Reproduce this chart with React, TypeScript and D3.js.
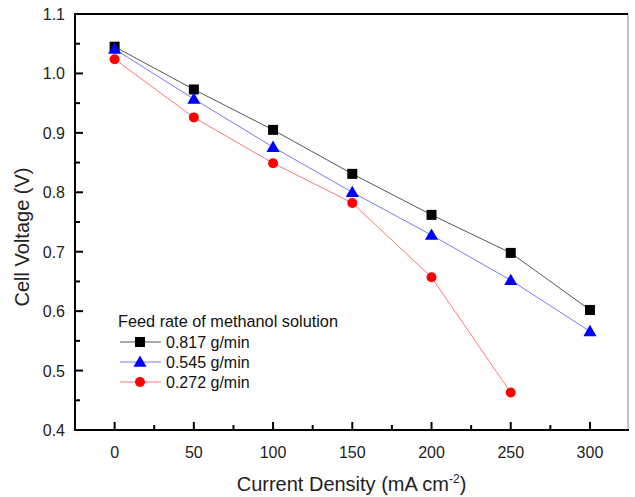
import React from "react";
import * as d3 from "d3";

const currentDensity = [0, 50, 100, 150, 200, 250, 300];
const series817 = [1.045, 0.973, 0.905, 0.831, 0.762, 0.698, 0.602];
const series545 = [1.041, 0.957, 0.876, 0.800, 0.728, 0.652, 0.566];
const series272 = [1.024, 0.926, 0.849, 0.782, 0.657, 0.463];
const seriesLabels = ["0.817 g/min", "0.545 g/min", "0.272 g/min"];
const legendTitle = "Feed rate of methanol solution";
const xTicks = [0, 50, 100, 150, 200, 250, 300];
const yTicks = [0.4, 0.5, 0.6, 0.7, 0.8, 0.9, 1.0, 1.1];

const W = 635, H = 497;
const L = 75, R = 628, T = 14, B = 430;
const FONT = "'Liberation Sans', Arial, sans-serif";

function Marker({ type, x, y, color }: { type: string; x: number; y: number; color: string }) {
  if (type === "square") return <rect x={x - 5} y={y - 5} width={10} height={10} fill={color} />;
  if (type === "triangle") {
    const p = d3.symbol().type(d3.symbolTriangle).size(75)();
    return <path d={p || ""} transform={`translate(${x},${y + 1})`} fill={color} />;
  }
  return <circle cx={x} cy={y} r={5} fill={color} />;
}

export default function App() {
  const x = d3.scaleLinear().domain([-25, 324]).range([L, R]);
  const y = d3.scaleLinear().domain([0.4, 1.1]).range([B, T]);
  const series = [
    { vals: series817, line: "#555", color: "#000", type: "square" },
    { vals: series545, line: "#7777ff", color: "#0000ff", type: "triangle" },
    { vals: series272, line: "#ff7777", color: "#ff0000", type: "circle" },
  ];
  const lineGen = (vals: number[]) =>
    d3.line<number>().x((_, i) => x(currentDensity[i])).y((v) => y(v))(vals) || "";
  const xMinor = d3.range(-25, 325, 25).filter((v) => v % 50 !== 0 && v > -25);
  const yMinor = d3.range(0.45, 1.1, 0.1);

  return (
    <svg width={W} height={H} style={{ position: "absolute", left: 0, top: 0, background: "#fff" }}>
      <rect x={0} y={0} width={W} height={H} fill="#fff" />
      {/* frame */}
      <line x1={R} y1={T} x2={R} y2={B} stroke="#888" strokeWidth={1} />
      <line x1={L} y1={T} x2={R} y2={T} stroke="#000" strokeWidth={2} />
      <line x1={L} y1={T - 1} x2={L} y2={B + 1} stroke="#000" strokeWidth={2} />
      <line x1={L - 1} y1={B} x2={R + 1} y2={B} stroke="#000" strokeWidth={2} />
      {/* y ticks */}
      {yTicks.map((t) => (
        <g key={"y" + t}>
          <line x1={L} x2={L + 8} y1={y(t)} y2={y(t)} stroke="#000" strokeWidth={2} />
          <text x={L - 10} y={y(t) + 6} textAnchor="end" fontFamily={FONT} fontSize={16} fill="#222">
            {t.toFixed(1)}
          </text>
        </g>
      ))}
      {yMinor.map((t) => (
        <line key={"ym" + t} x1={L} x2={L + 5} y1={y(t)} y2={y(t)} stroke="#000" strokeWidth={2} />
      ))}
      {/* x ticks */}
      {xTicks.map((t) => (
        <g key={"x" + t}>
          <line x1={x(t)} x2={x(t)} y1={B} y2={B - 8} stroke="#000" strokeWidth={2} />
          <text x={x(t)} y={B + 28} textAnchor="middle" fontFamily={FONT} fontSize={16} fill="#222">
            {t}
          </text>
        </g>
      ))}
      {xMinor.map((t) => (
        <line key={"xm" + t} x1={x(t)} x2={x(t)} y1={B} y2={B - 5} stroke="#000" strokeWidth={2} />
      ))}
      {/* axis titles */}
      <text x={(L + R) / 2} y={491} textAnchor="middle" fontFamily={FONT} fontSize={20} fill="#222">
        Current Density (mA cm<tspan dy={-8} fontSize={12}>-2</tspan><tspan dy={8}>)</tspan>
      </text>
      <text
        transform={`translate(29,237) rotate(-90)`}
        textAnchor="middle"
        fontFamily={FONT}
        fontSize={20}
        fill="#222"
      >
        Cell Voltage (V)
      </text>
      {/* series */}
      {series.map((s, si) => (
        <g key={"s" + si}>
          <path d={lineGen(s.vals)} fill="none" stroke={s.line} strokeWidth={1} />
          {s.vals.map((v, i) => (
            <Marker key={i} type={s.type} x={x(currentDensity[i])} y={y(v)} color={s.color} />
          ))}
        </g>
      ))}
      {/* legend */}
      <text x={118} y={327} fontFamily={FONT} fontSize={16.3} fill="#111">
        {legendTitle}
      </text>
      {series.map((s, si) => {
        const ly = 342 + si * 20;
        return (
          <g key={"l" + si}>
            <line x1={120} x2={161} y1={ly} y2={ly} stroke={s.line} strokeWidth={1} />
            <Marker type={s.type} x={140} y={ly} color={s.color} />
            <text x={166} y={ly + 6} fontFamily={FONT} fontSize={16} fill="#111">
              {seriesLabels[si]}
            </text>
          </g>
        );
      })}
    </svg>
  );
}
